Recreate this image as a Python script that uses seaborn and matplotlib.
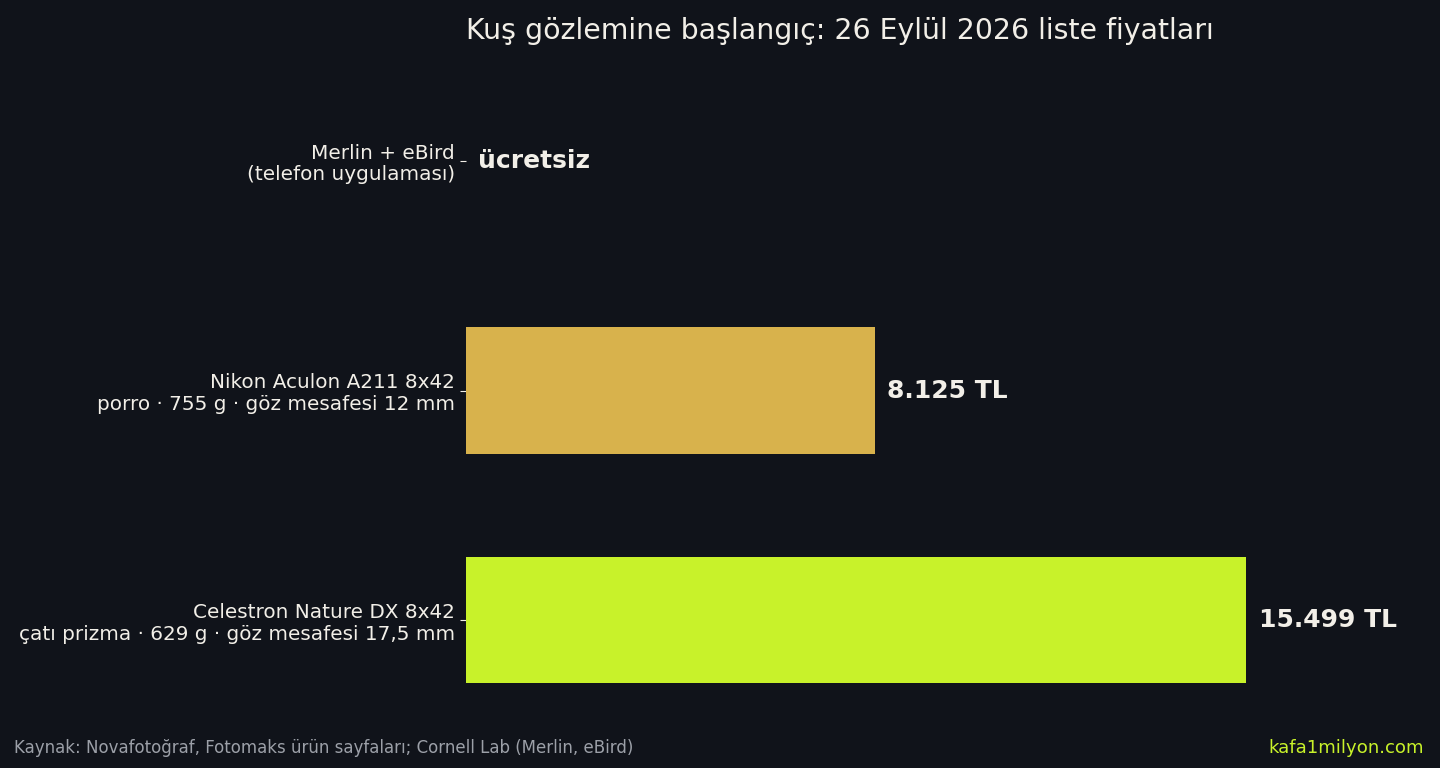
import matplotlib
matplotlib.use("Agg")
import matplotlib.pyplot as plt
import seaborn as sns
import pandas as pd

# Chart data
products = [
    "Merlin + eBird\n(telefon uygulaması)",
    "Nikon Aculon A211 8x42\nporro · 755 g · göz mesafesi 12 mm",
    "Celestron Nature DX 8x42\nçatı prizma · 629 g · göz mesafesi 17,5 mm",
]
prices = [0, 8125, 15499]
price_labels = ["ücretsiz", "8.125 TL", "15.499 TL"]
bar_colors = ["#6b7280", "#d8b24c", "#c8f22a"]

bg = "#10131a"
fg = "#f2efe8"

sns.set_theme(style="white")
plt.rcParams["font.family"] = ["DejaVu Sans"]

df = pd.DataFrame({"Product": products, "Price": prices})

fig = plt.figure(figsize=(14.4, 7.68), dpi=100, facecolor=bg)
ax = fig.add_axes([466 / 1440, 33 / 768, 954 / 1440, 689 / 768])
ax.set_facecolor(bg)

sns.barplot(data=df, x="Price", y="Product", hue="Product",
            palette=bar_colors, width=0.55, saturation=1, legend=False,
            linewidth=0, edgecolor="none", ax=ax)

ax.set_xlim(0, max(prices) * 1.223)
ax.set_xlabel("")
ax.set_ylabel("")
ax.set_xticks([])
for s in ax.spines.values():
    s.set_visible(False)
ax.tick_params(axis="y", left=True, colors=fg, labelsize=14.4,
               length=4, width=0.8, pad=4)
for t in ax.get_yticklabels():
    t.set_linespacing(1.17)

# Value labels next to each bar
for cont, lab in zip(ax.containers, price_labels):
    ax.bar_label(cont, labels=[lab], padding=9, color=fg,
                 fontsize=18, fontweight="bold")

fig.text(466 / 1440, 1 - 31 / 768,
         "Kuş gözlemine başlangıç: 26 Eylül 2026 liste fiyatları",
         color=fg, fontsize=20.4, va="center", ha="left")

fig.text(14 / 1440, 1 - 748 / 768,
         "Kaynak: Novafotoğraf, Fotomaks ürün sayfaları; Cornell Lab (Merlin, eBird)",
         color="#9ca0a8", fontsize=12, va="center", ha="left")
fig.text(1424 / 1440, 1 - 748 / 768, "kafa1milyon.com",
         color="#c8f22a", fontsize=13.1, va="center", ha="right")

fig.savefig("out.png", dpi=100, facecolor=bg)
